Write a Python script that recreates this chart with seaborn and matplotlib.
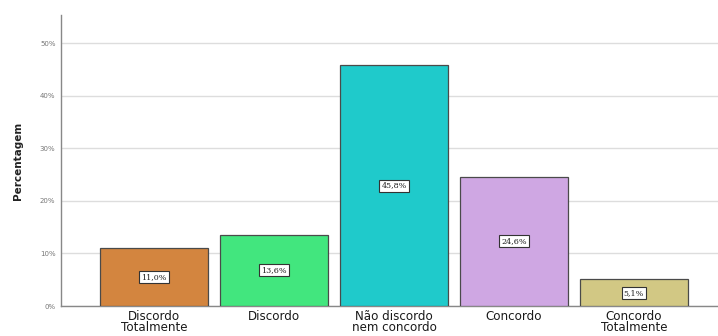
import matplotlib
matplotlib.use("Agg")
import matplotlib.pyplot as plt
import seaborn as sns
import pandas as pd

categories = ["Discordo\nTotalmente", "Discordo", "Não discordo\nnem concordo",
              "Concordo", "Concordo\nTotalmente"]
percentages = [11.0, 13.6, 45.8, 24.6, 5.1]
colors = ["#D3853F", "#42E67E", "#1FCACB", "#CFA7E3", "#D2C884"]
yticks = [0, 10, 20, 30, 40, 50]

df = pd.DataFrame({"categoria": categories, "pct": percentages})

sns.set_theme(style="white")
plt.rcParams["font.family"] = ["DejaVu Sans"]

fig = plt.figure(figsize=(7.18, 3.36), dpi=100)
ax = fig.add_axes([0.085, 0.089, 0.915, 0.866])

sns.barplot(data=df, x="categoria", y="pct", hue="categoria", palette=colors,
            legend=False, width=0.9, edgecolor="#4a4a4a", linewidth=0.9,
            saturation=1, ax=ax, zorder=3)

for i, v in enumerate(percentages):
    ax.text(i, v / 2, f"{v:.1f}%".replace(".", ","), ha="center", va="center",
            fontsize=5.8, family="DejaVu Serif", color="#222222", zorder=5,
            bbox=dict(boxstyle="square,pad=0.25", facecolor="white",
                      edgecolor="#333333", linewidth=0.8))

ax.set_xlim(-0.775, 4.7)
ax.set_ylim(0, 55.3)
ax.set_yticks(yticks)
ax.set_yticklabels([f"{t}%" for t in yticks], fontsize=5, color="#777777")
ax.yaxis.grid(True, color="#dddddd", linewidth=1, zorder=0)
ax.set_axisbelow(True)
ax.tick_params(axis="x", labelsize=8.6, colors="#1a1a1a", length=0, pad=3)
ax.tick_params(axis="y", length=0, pad=4)
for lbl in ax.get_xticklabels():
    lbl.set_linespacing(0.8)

ax.set_xlabel("")
ax.set_ylabel("Percentagem", fontsize=7.5, fontweight="bold", color="#222222", labelpad=12)

for side in ["top", "right"]:
    ax.spines[side].set_visible(False)
for side in ["left", "bottom"]:
    ax.spines[side].set_color("#888888")
    ax.spines[side].set_linewidth(1)

fig.savefig("out.png", dpi=100)
